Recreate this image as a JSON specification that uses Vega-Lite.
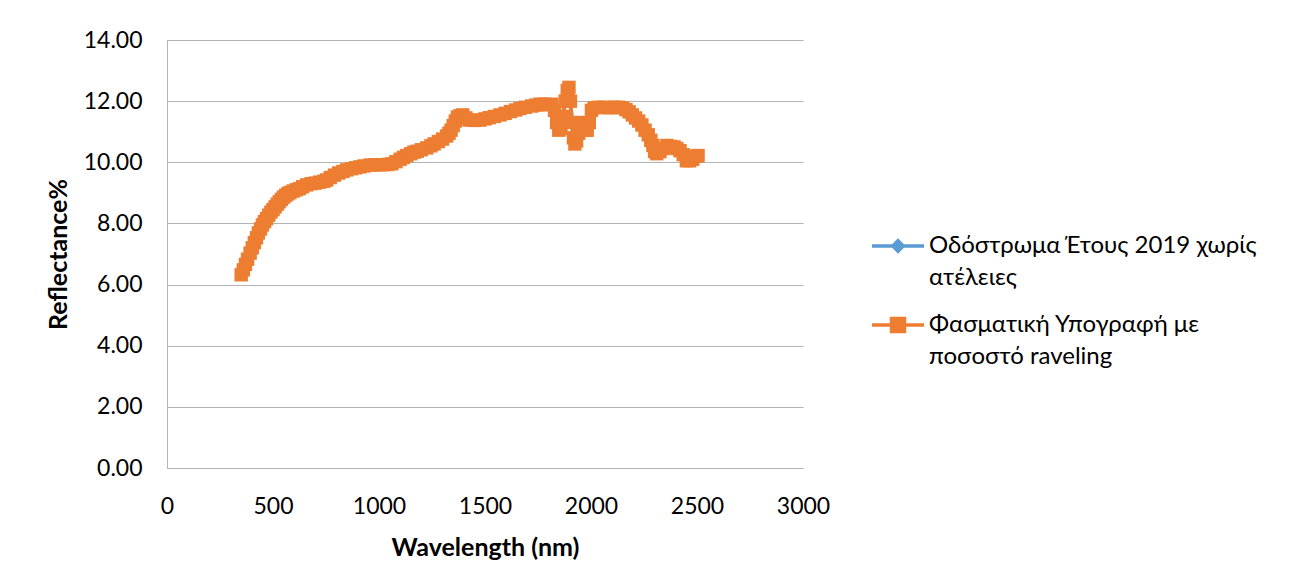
{
  "$schema": "https://vega.github.io/schema/vega-lite/v6.json",
  "autosize": {"type": "none"},
  "width": 636,
  "height": 428,
  "padding": {"left": 167, "top": 40, "right": 490, "bottom": 118},
  "background": "white",
  "config": {
    "view": {"stroke": null},
    "font": "Lato",
    "axis": {
      "labelFont": "Lato", "labelFontSize": 23, "labelColor": "#000000",
      "titleFont": "Lato", "titleFontSize": 25, "titleFontWeight": "bold", "titleColor": "#000000",
      "gridColor": "#b3b3b3", "gridWidth": 1, "domainColor": "#b3b3b3", "domainWidth": 1,
      "ticks": false, "labelFlush": false
    },
    "legend": {
      "labelFont": "Lato", "labelFontSize": 24, "labelColor": "#000000", "labelLimit": 600
    },
    "style": {"guide-label": {"lineHeight": 32}}
  },
  "data": {
    "values": [
      {"wl": 350, "road": 6.32, "rav": 6.32}, {"wl": 360, "road": 6.48, "rav": 6.48}, {"wl": 370, "road": 6.66, "rav": 6.66},
      {"wl": 380, "road": 6.83, "rav": 6.83}, {"wl": 392, "road": 7.03, "rav": 7.03}, {"wl": 402, "road": 7.2, "rav": 7.2},
      {"wl": 412, "road": 7.37, "rav": 7.37}, {"wl": 422, "road": 7.53, "rav": 7.53}, {"wl": 431, "road": 7.69, "rav": 7.69},
      {"wl": 441, "road": 7.82, "rav": 7.82}, {"wl": 450, "road": 7.95, "rav": 7.95}, {"wl": 460, "road": 8.06, "rav": 8.06},
      {"wl": 470, "road": 8.16, "rav": 8.16}, {"wl": 480, "road": 8.27, "rav": 8.27}, {"wl": 490, "road": 8.37, "rav": 8.37},
      {"wl": 500, "road": 8.45, "rav": 8.45}, {"wl": 510, "road": 8.54, "rav": 8.54}, {"wl": 520, "road": 8.63, "rav": 8.63},
      {"wl": 530, "road": 8.71, "rav": 8.71}, {"wl": 540, "road": 8.79, "rav": 8.79}, {"wl": 550, "road": 8.86, "rav": 8.86},
      {"wl": 560, "road": 8.92, "rav": 8.92}, {"wl": 570, "road": 8.97, "rav": 8.97}, {"wl": 580, "road": 9.01, "rav": 9.01},
      {"wl": 595, "road": 9.06, "rav": 9.06}, {"wl": 610, "road": 9.1, "rav": 9.1}, {"wl": 625, "road": 9.14, "rav": 9.14},
      {"wl": 640, "road": 9.2, "rav": 9.2}, {"wl": 659, "road": 9.26, "rav": 9.26}, {"wl": 680, "road": 9.3, "rav": 9.3},
      {"wl": 700, "road": 9.32, "rav": 9.32}, {"wl": 720, "road": 9.35, "rav": 9.35}, {"wl": 740, "road": 9.38, "rav": 9.38},
      {"wl": 753, "road": 9.42, "rav": 9.42}, {"wl": 770, "road": 9.5, "rav": 9.5}, {"wl": 790, "road": 9.58, "rav": 9.58},
      {"wl": 810, "road": 9.65, "rav": 9.65}, {"wl": 830, "road": 9.7, "rav": 9.7}, {"wl": 848, "road": 9.75, "rav": 9.75},
      {"wl": 870, "road": 9.79, "rav": 9.79}, {"wl": 890, "road": 9.82, "rav": 9.82}, {"wl": 910, "road": 9.85, "rav": 9.85},
      {"wl": 930, "road": 9.88, "rav": 9.88}, {"wl": 958, "road": 9.91, "rav": 9.91}, {"wl": 980, "road": 9.92, "rav": 9.92},
      {"wl": 1000, "road": 9.92, "rav": 9.92}, {"wl": 1020, "road": 9.92, "rav": 9.92}, {"wl": 1040, "road": 9.93, "rav": 9.93},
      {"wl": 1060, "road": 9.95, "rav": 9.95}, {"wl": 1080, "road": 10.02, "rav": 10.02}, {"wl": 1100, "road": 10.1, "rav": 10.1},
      {"wl": 1115, "road": 10.16, "rav": 10.16}, {"wl": 1131, "road": 10.22, "rav": 10.22}, {"wl": 1150, "road": 10.28, "rav": 10.28},
      {"wl": 1165, "road": 10.33, "rav": 10.33}, {"wl": 1180, "road": 10.36, "rav": 10.36}, {"wl": 1200, "road": 10.41, "rav": 10.41},
      {"wl": 1225, "road": 10.47, "rav": 10.47}, {"wl": 1245, "road": 10.54, "rav": 10.54}, {"wl": 1260, "road": 10.6, "rav": 10.6},
      {"wl": 1280, "road": 10.68, "rav": 10.68}, {"wl": 1300, "road": 10.76, "rav": 10.76}, {"wl": 1319, "road": 10.86, "rav": 10.86},
      {"wl": 1330, "road": 10.95, "rav": 10.95}, {"wl": 1340, "road": 11.05, "rav": 11.05}, {"wl": 1350, "road": 11.2, "rav": 11.2},
      {"wl": 1360, "road": 11.35, "rav": 11.35}, {"wl": 1370, "road": 11.48, "rav": 11.48}, {"wl": 1382, "road": 11.52, "rav": 11.52},
      {"wl": 1395, "road": 11.55, "rav": 11.55}, {"wl": 1410, "road": 11.45, "rav": 11.45}, {"wl": 1425, "road": 11.38, "rav": 11.38},
      {"wl": 1450, "road": 11.37, "rav": 11.37}, {"wl": 1476, "road": 11.38, "rav": 11.38}, {"wl": 1500, "road": 11.42, "rav": 11.42},
      {"wl": 1520, "road": 11.46, "rav": 11.46}, {"wl": 1545, "road": 11.5, "rav": 11.5}, {"wl": 1571, "road": 11.55, "rav": 11.55},
      {"wl": 1595, "road": 11.6, "rav": 11.6}, {"wl": 1620, "road": 11.66, "rav": 11.66}, {"wl": 1645, "road": 11.71, "rav": 11.71},
      {"wl": 1665, "road": 11.76, "rav": 11.76}, {"wl": 1690, "road": 11.8, "rav": 11.8}, {"wl": 1720, "road": 11.84, "rav": 11.84},
      {"wl": 1740, "road": 11.87, "rav": 11.87}, {"wl": 1759, "road": 11.9, "rav": 11.9}, {"wl": 1780, "road": 11.9, "rav": 11.9},
      {"wl": 1800, "road": 11.88, "rav": 11.88}, {"wl": 1815, "road": 11.9, "rav": 11.9}, {"wl": 1828, "road": 11.7, "rav": 11.7},
      {"wl": 1838, "road": 11.3, "rav": 11.3}, {"wl": 1848, "road": 11.05, "rav": 11.05}, {"wl": 1858, "road": 11.1, "rav": 11.1},
      {"wl": 1868, "road": 11.5, "rav": 11.5}, {"wl": 1878, "road": 12.0, "rav": 12.0}, {"wl": 1888, "road": 12.35, "rav": 12.35},
      {"wl": 1896, "road": 12.45, "rav": 12.45}, {"wl": 1903, "road": 12.0, "rav": 12.0}, {"wl": 1910, "road": 11.3, "rav": 11.3},
      {"wl": 1917, "road": 10.8, "rav": 10.8}, {"wl": 1924, "road": 10.6, "rav": 10.6}, {"wl": 1932, "road": 10.7, "rav": 10.7},
      {"wl": 1942, "road": 10.95, "rav": 10.95}, {"wl": 1952, "road": 11.2, "rav": 11.2}, {"wl": 1962, "road": 11.3, "rav": 11.3},
      {"wl": 1972, "road": 11.05, "rav": 11.05}, {"wl": 1982, "road": 11.05, "rav": 11.05}, {"wl": 1992, "road": 11.3, "rav": 11.3},
      {"wl": 2002, "road": 11.7, "rav": 11.7}, {"wl": 2015, "road": 11.78, "rav": 11.78}, {"wl": 2035, "road": 11.8, "rav": 11.8},
      {"wl": 2060, "road": 11.8, "rav": 11.8}, {"wl": 2085, "road": 11.78, "rav": 11.78}, {"wl": 2110, "road": 11.8, "rav": 11.8},
      {"wl": 2130, "road": 11.8, "rav": 11.8}, {"wl": 2150, "road": 11.78, "rav": 11.78}, {"wl": 2165, "road": 11.72, "rav": 11.72},
      {"wl": 2180, "road": 11.65, "rav": 11.65}, {"wl": 2195, "road": 11.55, "rav": 11.55}, {"wl": 2210, "road": 11.45, "rav": 11.45},
      {"wl": 2225, "road": 11.35, "rav": 11.35}, {"wl": 2240, "road": 11.22, "rav": 11.22}, {"wl": 2255, "road": 11.05, "rav": 11.05},
      {"wl": 2270, "road": 10.9, "rav": 10.9}, {"wl": 2282, "road": 10.72, "rav": 10.72}, {"wl": 2292, "road": 10.55, "rav": 10.55},
      {"wl": 2300, "road": 10.35, "rav": 10.35}, {"wl": 2310, "road": 10.28, "rav": 10.28}, {"wl": 2325, "road": 10.35, "rav": 10.35},
      {"wl": 2340, "road": 10.45, "rav": 10.45}, {"wl": 2358, "road": 10.55, "rav": 10.55}, {"wl": 2375, "road": 10.52, "rav": 10.52},
      {"wl": 2392, "road": 10.5, "rav": 10.5}, {"wl": 2405, "road": 10.45, "rav": 10.45}, {"wl": 2420, "road": 10.38, "rav": 10.38},
      {"wl": 2435, "road": 10.25, "rav": 10.25}, {"wl": 2450, "road": 10.05, "rav": 10.05}, {"wl": 2465, "road": 10.05, "rav": 10.05},
      {"wl": 2480, "road": 10.1, "rav": 10.1}, {"wl": 2495, "road": 10.2, "rav": 10.2}, {"wl": 2505, "road": 10.22, "rav": 10.22}
    ]
  },
  "encoding": {
    "x": {
      "field": "wl", "type": "quantitative",
      "scale": {"domain": [0, 3000], "nice": false, "zero": false},
      "axis": {"title": "Wavelength (nm)", "values": [0, 500, 1000, 1500, 2000, 2500, 3000], "format": "d", "grid": false, "labelPadding": 27, "titlePadding": 17}
    }
  },
  "layer": [
    {
      "mark": {"type": "line", "color": "#5B9BD5", "strokeWidth": 4},
      "encoding": {
        "y": {
          "field": "road", "type": "quantitative",
          "scale": {"domain": [0, 14], "nice": false, "zero": false},
          "axis": {"title": "Reflectance%", "values": [0, 2, 4, 6, 8, 10, 12, 14], "format": ".2f", "labelPadding": 25, "titlePadding": 12}
        }
      }
    },
    {
      "mark": {"type": "point", "shape": "diamond", "filled": true, "opacity": 1, "color": "#5B9BD5", "size": 100},
      "encoding": {"y": {"field": "road", "type": "quantitative"}}
    },
    {
      "mark": {"type": "line", "color": "#ED7D31", "strokeWidth": 4},
      "encoding": {"y": {"field": "rav", "type": "quantitative"}}
    },
    {
      "mark": {"type": "point", "shape": "square", "filled": true, "opacity": 1, "color": "#ED7D31", "size": 180},
      "encoding": {"y": {"field": "rav", "type": "quantitative"}}
    },
    {
      "transform": [{"filter": "false"}],
      "mark": {"type": "point", "filled": true, "opacity": 1, "strokeWidth": 3.5},
      "encoding": {
        "y": {"field": "rav", "type": "quantitative"},
        "color": {
          "field": "s", "type": "nominal",
          "scale": {"domain": ["road", "rav"], "range": ["#5B9BD5", "#ED7D31"]},
          "legend": {"title": null, "orient": "none", "legendX": 703, "legendY": 178, "symbolSize": 2704, "symbolStrokeWidth": 3.5, "labelOffset": 3, "padding": 0, "rowPadding": 7,
            "labelExpr": "datum.value == 'road' ? ['Οδόστρωμα Έτους 2019 χωρίς', 'ατέλειες'] : ['Φασματική Υπογραφή με', 'ποσοστό raveling']"}
        },
        "stroke": {
          "field": "s", "type": "nominal",
          "scale": {"domain": ["road", "rav"], "range": ["#5B9BD5", "#ED7D31"]},
          "legend": {"title": null, "orient": "none", "legendX": 703, "legendY": 178, "symbolSize": 2704, "symbolStrokeWidth": 3.5, "labelOffset": 3, "padding": 0, "rowPadding": 7,
            "labelExpr": "datum.value == 'road' ? ['Οδόστρωμα Έτους 2019 χωρίς', 'ατέλειες'] : ['Φασματική Υπογραφή με', 'ποσοστό raveling']"}
        },
        "shape": {
          "field": "s", "type": "nominal",
          "scale": {"domain": ["road", "rav"], "range": ["M-1,0H1M0,-0.2L0.2,0L0,0.2L-0.2,0Z", "M-1,0H1M-0.25,-0.25H0.25V0.25H-0.25Z"]},
          "legend": {"title": null, "orient": "none", "legendX": 703, "legendY": 178, "symbolSize": 2704, "symbolStrokeWidth": 3.5, "labelOffset": 3, "padding": 0, "rowPadding": 7,
            "labelExpr": "datum.value == 'road' ? ['Οδόστρωμα Έτους 2019 χωρίς', 'ατέλειες'] : ['Φασματική Υπογραφή με', 'ποσοστό raveling']"}
        }
      }
    }
  ]
}
